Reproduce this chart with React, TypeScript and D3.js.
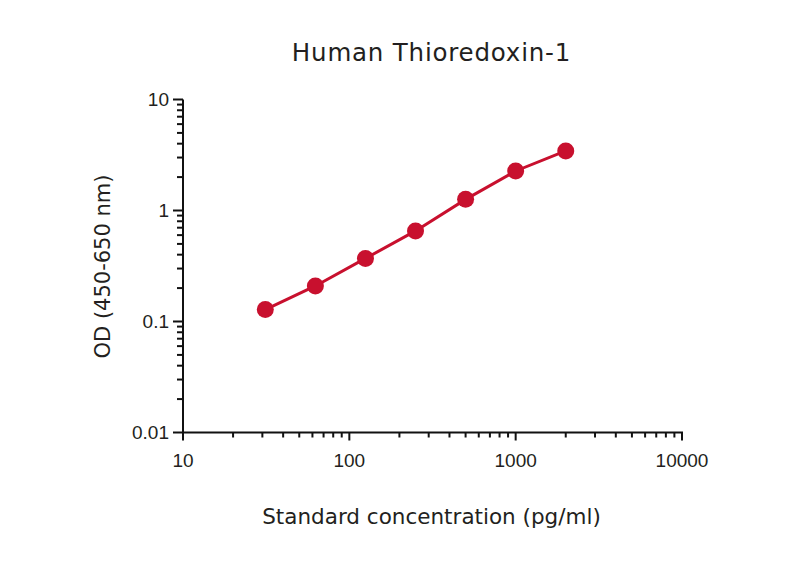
import React from "react";
import * as d3 from "d3";

const concentrations = [31.25, 62.5, 125, 250, 500, 1000, 2000];
const odValues = [0.128, 0.209, 0.37, 0.655, 1.26, 2.27, 3.44];
const xTickValues = [10, 100, 1000, 10000];
const yTickValues = [0.01, 0.1, 1, 10];
const titleText = "Human Thioredoxin-1";
const xLabel = "Standard concentration (pg/ml)";
const yLabel = "OD (450-650 nm)";

const W = 800;
const H = 566;
const left = 183;
const right = 682;
const top = 99.5;
const bottom = 432.5;
const red = "#C8102E";
const tickFont = "'Liberation Sans', Arial, sans-serif";
const labelFont = "'DejaVu Sans', sans-serif";
const textColor = "#231f20";

export default function App() {
  const x = d3.scaleLog().domain([10, 10000]).range([left, right]);
  const y = d3.scaleLog().domain([0.01, 10]).range([bottom, top]);

  const minorX: number[] = [];
  for (let d = 10; d < 10000; d *= 10) for (let k = 2; k <= 9; k++) minorX.push(d * k);
  const minorY: number[] = [];
  for (let d = 0.01; d < 9; d *= 10) for (let k = 2; k <= 9; k++) minorY.push(d * k);

  const line = d3
    .line<number>()
    .x((_, i) => x(concentrations[i]))
    .y((v) => y(v));

  const fmt = (v: number) => (v >= 1 ? String(Math.round(v)) : String(+v.toFixed(2)));

  return (
    <svg width={W} height={H} style={{ position: "absolute", left: 0, top: 0, background: "#fff" }}>
      <rect width={W} height={H} fill="#fff" />
      <text
        x={431.5}
        y={61}
        textAnchor="middle"
        fontFamily={labelFont}
        fontSize={24.5}
        letterSpacing={0.8}
        fill={textColor}
      >
        {titleText}
      </text>
      {/* axes */}
      <line x1={left} x2={left} y1={top} y2={bottom} stroke="#111" strokeWidth={2} />
      <line x1={left} x2={right + 1} y1={bottom} y2={bottom} stroke="#111" strokeWidth={2} />
      {xTickValues.map((v) => (
        <g key={"xt" + v}>
          <line x1={x(v)} x2={x(v)} y1={bottom} y2={bottom + 8} stroke="#111" strokeWidth={2} />
          <text x={x(v)} y={466.5} textAnchor="middle" fontFamily={tickFont} fontSize={19} fill={textColor}>
            {fmt(v)}
          </text>
        </g>
      ))}
      {minorX.map((v) => (
        <line key={"xm" + v} x1={x(v)} x2={x(v)} y1={bottom} y2={bottom + 5} stroke="#111" strokeWidth={2} />
      ))}
      {yTickValues.map((v) => (
        <g key={"yt" + v}>
          <line x1={left - 10} x2={left} y1={y(v)} y2={y(v)} stroke="#111" strokeWidth={2} />
          <text x={169} y={y(v) + 6.5} textAnchor="end" fontFamily={tickFont} fontSize={19} fill={textColor}>
            {fmt(v)}
          </text>
        </g>
      ))}
      {minorY.map((v) => (
        <line key={"ym" + v} x1={left - 6} x2={left} y1={y(v)} y2={y(v)} stroke="#111" strokeWidth={2} />
      ))}
      {/* series */}
      <path d={line(odValues) || ""} fill="none" stroke={red} strokeWidth={3} />
      {odValues.map((v, i) => (
        <circle key={"p" + i} cx={x(concentrations[i])} cy={y(v)} r={8.5} fill={red} />
      ))}
      <text x={431.5} y={524} textAnchor="middle" fontFamily={labelFont} fontSize={21.5} fill={textColor}>
        {xLabel}
      </text>
      <text
        transform={`translate(110,266.5) rotate(-90)`}
        textAnchor="middle"
        fontFamily={labelFont}
        fontSize={21}
        fill={textColor}
      >
        {yLabel}
      </text>
    </svg>
  );
}
